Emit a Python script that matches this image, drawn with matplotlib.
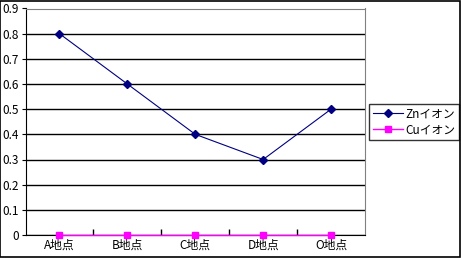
import matplotlib.pyplot as plt
import numpy as np

plt.rcParams['font.family'] = ['Noto Sans CJK JP', 'DejaVu Sans']

places = ['A地点', 'B地点', 'C地点', 'D地点', 'O地点']
zn = [0.8, 0.6, 0.4, 0.3, 0.5]
cu = [0, 0, 0, 0, 0]

fig = plt.figure(figsize=(4.61, 2.58), dpi=100)
# outer chart border
fig.patches.append(plt.Rectangle((0.001, 0.002), 0.997, 0.995, transform=fig.transFigure,
                                 fill=False, edgecolor='black', linewidth=1.2))
ax = fig.add_axes([25.5 / 461, 1 - 235 / 258, (365 - 25.5) / 461, (235 - 8.5) / 258])

x = np.arange(len(places))
ax.plot(x, zn, color='#000080', linewidth=0.8, marker='D', markersize=3.8,
        label='Znイオン', zorder=3)
ax.plot(x, cu, color='#ff00ff', linewidth=1.0, marker='s', markersize=4.5,
        label='Cuイオン', zorder=3, clip_on=False)

ax.set_xlim(-0.5, len(places) - 0.5)
ax.set_ylim(0, 0.9)
ax.set_yticks(np.arange(0, 0.91, 0.1))
ax.set_yticklabels(['0', '0.1', '0.2', '0.3', '0.4', '0.5', '0.6', '0.7', '0.8', '0.9'])
ax.set_xticks(x)
ax.set_xticklabels(places)
ax.set_xticks(np.arange(0.5, len(places) - 0.5, 1), minor=True)
ax.tick_params(axis='x', which='major', length=0, labelsize=8.5, pad=3)
ax.tick_params(axis='x', which='minor', length=4, width=1, direction='in', color='black')
ax.tick_params(axis='y', length=3, direction='out', labelsize=8.5, pad=2)

ax.grid(axis='y', color='black', linewidth=1)
ax.set_axisbelow(True)
for side in ['top', 'right']:
    ax.spines[side].set_color('#808080')
ax.spines['left'].set_color('black')
ax.spines['bottom'].set_color('black')
ax.spines['bottom'].set_zorder(2.5)

leg = ax.legend(loc='upper left', bbox_to_anchor=(369 / 461, 1 - 104 / 258), bbox_transform=fig.transFigure,
                frameon=True, fancybox=False, fontsize=8.5, handlelength=2.6, borderpad=0.3,
                labelspacing=0.25, handletextpad=0.2, borderaxespad=0)
leg.get_frame().set_edgecolor('black')
leg.get_frame().set_linewidth(1)

fig.savefig('out.png', dpi=100)
